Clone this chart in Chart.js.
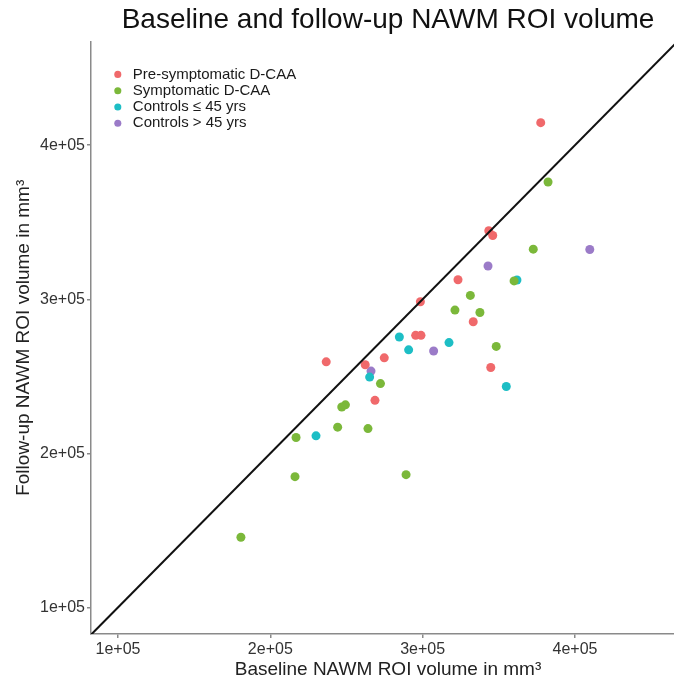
<!DOCTYPE html>
<html lang="en">
  <head>
    <meta charset="UTF-8" />
    <title>Baseline and follow-up NAWM ROI volume</title>
    <script src="https://cdn.jsdelivr.net/npm/chart.js"></script>
    <style>
      html, body { margin: 0; background: #fff; overflow: hidden; }
      /* the panel runs a little past the right edge of the window, as in the source figure */
      .chart-box { width: 685px; height: 685px; }
    </style>
  </head>
  <body>
    <div class="chart-box"><canvas id="roiChart"></canvas></div>

    <script>
      // Baseline (x) and follow-up (y) volumes
      const preSymX = [377500, 343400, 346000, 323200, 298500, 333200, 295400, 298900, 274800, 236700, 262300, 344700, 268700];
      const preSymY = [414600, 344500, 341400, 312700, 298400, 285400, 276600, 276600, 262000, 259400, 257500, 255700, 234400];

      const symX = [382300, 372600, 360000, 331300, 321200, 337600, 348300, 272300, 249300, 246900, 244200, 264100, 216900, 216200, 289100, 180700];
      const symY = [376100, 332500, 311900, 302500, 293000, 291400, 269400, 245300, 231500, 230100, 217000, 216100, 210300, 184900, 186200, 145600];

      const youngX = [361900, 284700, 290800, 317300, 265200, 354900, 230000];
      const youngY = [312500, 275500, 267200, 271900, 249500, 243400, 211400];

      const oldX = [409700, 342900, 307200, 266100];
      const oldY = [332300, 321600, 266400, 253400];

      const groupNames = ["Pre-symptomatic D-CAA", "Symptomatic D-CAA", "Controls \u2264 45 yrs", "Controls > 45 yrs"];
      const groupColors = ["#f0696b", "#7bb83a", "#1dbec5", "#9b7bc8"];

      const tickValues = [100000, 200000, 300000, 400000];
      const xRange = [82300, 472200];
      const yRange = [82800, 467200];
      const identityLine = [80000, 480000]; // y = x

      const toPoints = (xs, ys) => xs.map((x, i) => ({ x: x, y: ys[i] }));

      // R style exponent labels, e.g. 1e+05
      function sciLabel(v) {
        const [m, e] = v.toExponential().split("e");
        return m + "e" + e[0] + e.slice(1).padStart(2, "0");
      }

      // put the legend in the top-left corner of the plot panel
      const placeLegend = {
        id: "placeLegend",
        afterLayout(chart) {
          const lg = chart.legend;
          const w = lg.width, h = lg.height;
          lg.left = chart.chartArea.left + 18;
          lg.top = chart.chartArea.top + 24;
          lg.right = lg.left + w;
          lg.bottom = lg.top + h;
        },
      };

      const fontFamily = "Arial, 'Liberation Sans', sans-serif";
      const axisGrey = "#8a8a8a";
      const groups = [[preSymX, preSymY], [symX, symY], [youngX, youngY], [oldX, oldY]];

      const datasets = [
        {
          type: "line",
          label: "identity",
          data: identityLine.map((v) => ({ x: v, y: v })),
          borderColor: "#111",
          borderWidth: 2,
          pointRadius: 0,
          fill: false,
        },
      ];
      groups.forEach(([xs, ys], i) => {
        datasets.push({
          label: groupNames[i],
          data: toPoints(xs, ys),
          backgroundColor: groupColors[i],
          borderColor: groupColors[i],
          borderWidth: 0,
          pointRadius: 4.5,
        });
      });

      function axis(range, title, titlePad, fitFn) {
        return {
          type: "linear",
          min: range[0],
          max: range[1],
          afterBuildTicks: (scale) => {
            scale.ticks = tickValues.map((v) => ({ value: v }));
          },
          afterFit: fitFn,
          ticks: {
            callback: (v) => sciLabel(v),
            color: "#333",
            padding: 2,
            font: { family: fontFamily, size: 16 },
          },
          grid: {
            drawOnChartArea: false,
            tickLength: 4,
            color: axisGrey,
            lineWidth: 1.5,
          },
          border: { display: true, color: axisGrey, width: 1.5 },
          title: {
            display: true,
            text: title,
            color: "#222",
            padding: titlePad,
            font: { family: fontFamily, size: 19 },
          },
        };
      }

      new Chart(document.getElementById("roiChart").getContext("2d"), {
        type: "scatter",
        data: { datasets: datasets },
        options: {
          responsive: true,
          maintainAspectRatio: false,
          animation: false,
          layout: { padding: 0, autoPadding: false },
          scales: {
            x: axis(xRange, "Baseline NAWM ROI volume in mm\u00b3", { top: 0, bottom: 4 }, (s) => { s.height = 51; }),
            y: axis(yRange, "Follow-up NAWM ROI volume in mm\u00b3", { top: 12, bottom: 0 }, (s) => { s.width = 91; }),
          },
          plugins: {
            title: {
              display: true,
              text: "Baseline and follow-up NAWM ROI volume",
              fullSize: false,
              color: "#111",
              padding: { top: 3, bottom: 5 },
              font: { family: fontFamily, size: 28, weight: "normal" },
            },
            legend: {
              position: "chartArea",
              align: "start",
              labels: {
                filter: (item) => item.datasetIndex > 0,
                usePointStyle: true,
                pointStyle: "circle",
                boxWidth: 15,
                boxHeight: 5,
                padding: 1.3,
                color: "#1a1a1a",
                font: { family: fontFamily, size: 15 },
              },
            },
            tooltip: { enabled: false },
          },
        },
        plugins: [placeLegend],
      });
    </script>
  </body>
</html>
